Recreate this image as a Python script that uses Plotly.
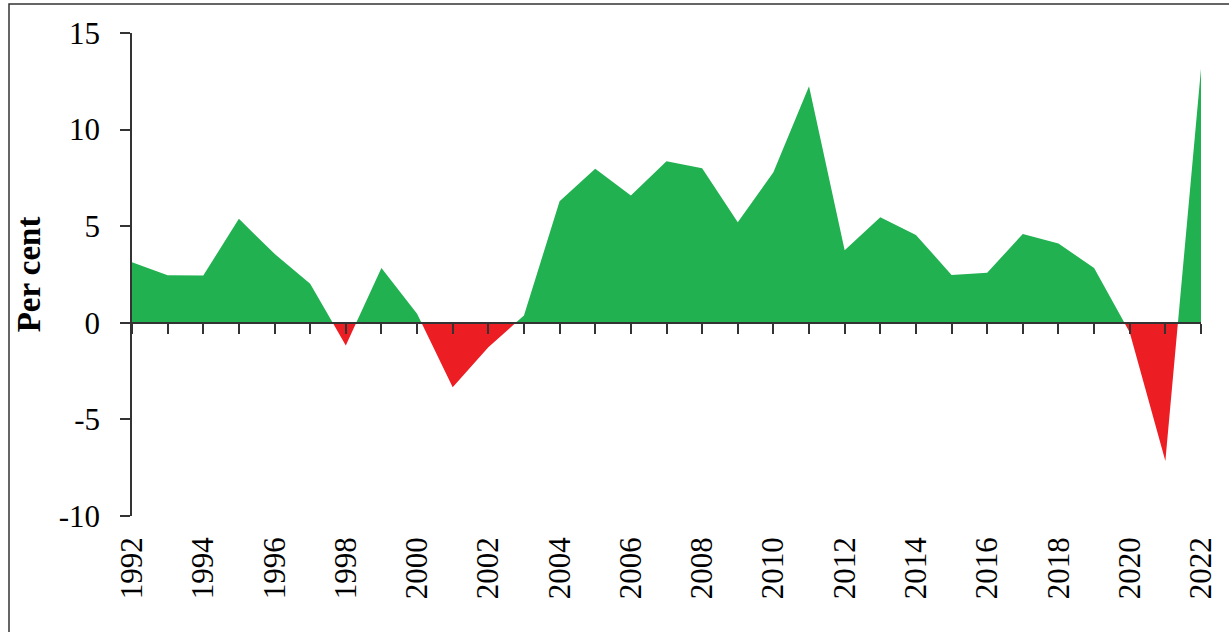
import plotly.graph_objects as go

# annual growth, per cent
years = list(range(1992, 2023))
growth = [3.13, 2.46, 2.45, 5.38, 3.57, 2.02, -1.17, 2.83, 0.47, -3.33,
          -1.26, 0.38, 6.29, 7.97, 6.59, 8.36, 8.0, 5.2, 7.79, 12.25,
          3.76, 5.46, 4.55, 2.48, 2.59, 4.6, 4.1, 2.84, -0.5, -7.15, 13.15]
label_years = list(range(1992, 2023, 2))
y_ticks = [-10, -5, 0, 5, 10, 15]
y_labels = ["-10", "-5", "0", "5", "10", "15"]

GREEN = "#21B151"
RED = "#ED1D24"
AXIS = "#333333"
FONT = "Liberation Serif"

W, H = 1229, 632
ML, MR, MT, MB = 132, 28, 33, 116


def split_sign(xs, ys):
    # split the series at zero so each sign gets its own fill
    px, py, nx, ny = [], [], [], []
    for i in range(len(xs)):
        x, y = xs[i], ys[i]
        if i > 0:
            x0, y0 = xs[i - 1], ys[i - 1]
            if (y0 > 0 > y) or (y0 < 0 < y):
                xc = x0 + (x - x0) * y0 / (y0 - y)
                px.append(xc); py.append(0)
                nx.append(xc); ny.append(0)
        px.append(x); py.append(max(y, 0))
        nx.append(x); ny.append(min(y, 0))
    return px, py, nx, ny


px, py, nx, ny = split_sign(years, growth)

fig = go.Figure()
fig.add_trace(go.Scatter(x=px, y=py, mode="lines", fill="tozeroy",
                         fillcolor=GREEN, line=dict(width=0, color=GREEN),
                         hoverinfo="skip", showlegend=False))
fig.add_trace(go.Scatter(x=nx, y=ny, mode="lines", fill="tozeroy",
                         fillcolor=RED, line=dict(width=0, color=RED),
                         hoverinfo="skip", showlegend=False))
# carrier for the label axis
fig.add_trace(go.Scatter(x=[years[0]], y=[0], xaxis="x2", mode="markers",
                         marker=dict(opacity=0), hoverinfo="skip", showlegend=False))

pw = W - ML - MR
ph = H - MT - MB

fig.update_layout(
    width=W, height=H,
    margin=dict(l=ML, r=MR, t=MT, b=MB, autoexpand=False),
    paper_bgcolor="white", plot_bgcolor="white",
    font=dict(family=FONT, color="black", size=30),
    xaxis=dict(range=[1992, 2022], anchor="free", position=0.4,
               showline=True, linecolor=AXIS, linewidth=1.5,
               ticks="outside", ticklen=10, tickwidth=1.5, tickcolor=AXIS,
               dtick=1, tick0=1992, showticklabels=False,
               showgrid=False, zeroline=False, fixedrange=True),
    xaxis2=dict(range=[1992, 2022], overlaying="x", anchor="y", side="bottom",
                tickvals=label_years, ticktext=[str(y) for y in label_years],
                tickangle=-90, ticks="", showline=False, showgrid=False,
                zeroline=False, ticklabelstandoff=14,
                tickfont=dict(family=FONT, size=31, color="black")),
    yaxis=dict(range=[-10, 15], tickvals=y_ticks, ticktext=y_labels,
               showline=True, linecolor=AXIS, linewidth=1.5,
               ticks="outside", ticklen=10, tickwidth=1.5, tickcolor=AXIS,
               showgrid=False, zeroline=False, ticklabelstandoff=14,
               tickfont=dict(family=FONT, size=31, color="black"),
               title=dict(text="<b>Per cent</b>", standoff=8,
                          font=dict(family=FONT, size=33, color="black"))),
    shapes=[dict(type="rect", xref="paper", yref="paper",
                 x0=(9 - ML) / pw, x1=(W + 10 - ML) / pw,
                 y0=-(MB + 10) / ph, y1=(H - MB - 4) / ph,
                 line=dict(color=AXIS, width=1.5), layer="below")],
)

fig.write_html("out.html", config={"displayModeBar": False},
               post_script="document.body.style.margin='0';")
